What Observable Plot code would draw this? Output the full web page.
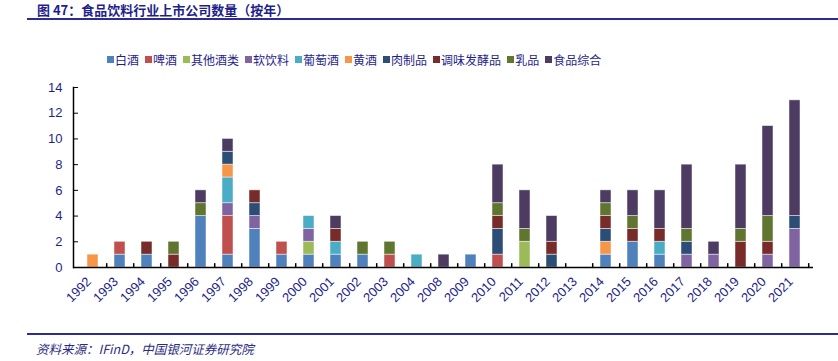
<!DOCTYPE html>
<html><head><meta charset="utf-8">
<script src="https://cdn.jsdelivr.net/npm/d3@7"></script>
<script src="https://cdn.jsdelivr.net/npm/@observablehq/plot@0.6"></script>
<style>
body{margin:0;background:#fff;}
#wrap{position:relative;width:838px;height:361px;overflow:hidden;font-family:"Noto Sans CJK SC",sans-serif;background:#fff;}
#title{position:absolute;left:37px;top:0px;font-size:13px;line-height:normal;font-weight:bold;color:#1f1f8a;white-space:nowrap;}
.hr{position:absolute;left:27px;right:0;height:2px;background:#2b2b9a;}
#legend{position:absolute;left:107px;top:51px;display:flex;gap:6px;font-size:12px;color:#1f1f8a;white-space:nowrap;}
.item{display:flex;align-items:center;}
.sw{width:7px;height:7px;margin-right:1px;display:inline-block;}
#chart{position:absolute;left:0;top:76px;}
#caption{position:absolute;left:36px;top:339px;font-size:12.5px;font-style:italic;color:#2a2a80;white-space:nowrap;}
</style></head>
<body>
<div id="wrap">
  <div id="title">图 47：食品饮料行业上市公司数量（按年）</div>
  <div class="hr" style="top:18px"></div>
  <div id="legend"></div>
  <div id="chart"></div>
  <div class="hr" style="top:333px"></div>
  <div id="caption">资料来源：IFinD，中国银河证券研究院</div>
</div>
<script>
const years = ["1992","1993","1994","1995","1996","1997","1998","1999","2000","2001","2002","2003","2004","2008","2009","2010","2011","2012","2013","2014","2015","2016","2017","2018","2019","2020","2021"];
const categories = ["白酒","啤酒","其他酒类","软饮料","葡萄酒","黄酒","肉制品","调味发酵品","乳品","食品综合"];
const colors = ["#4F81BD","#C0504D","#9BBB59","#8064A2","#4BACC6","#F79646","#2C4D75","#772C2A","#5F7530","#4D3B62"];
const baijiu   = [0,1,1,0,4,1,3,1,1,1,1,0,0,0,1,0,0,0,0,1,2,1,0,0,0,0,0];
const pijiu    = [0,1,0,0,0,3,0,1,0,0,0,1,0,0,0,1,0,0,0,0,0,0,0,0,0,0,0];
const qitajiu  = [0,0,0,0,0,0,0,0,1,0,0,0,0,0,0,0,2,0,0,0,0,0,0,0,0,0,0];
const ruanyin  = [0,0,0,0,0,1,1,0,1,0,0,0,0,0,0,0,0,0,0,0,0,0,1,1,0,1,3];
const putao    = [0,0,0,0,0,2,0,0,1,1,0,0,1,0,0,0,0,0,0,0,0,1,0,0,0,0,0];
const huangjiu = [1,0,0,0,0,1,0,0,0,0,0,0,0,0,0,0,0,0,0,1,0,0,0,0,0,0,0];
const rouzhi   = [0,0,0,0,0,1,1,0,0,0,0,0,0,0,0,2,0,1,0,1,0,0,1,0,0,0,1];
const tiaowei  = [0,0,1,1,0,0,1,0,0,1,0,0,0,0,0,1,0,1,0,1,1,1,0,0,2,1,0];
const rupin    = [0,0,0,1,1,0,0,0,0,0,1,1,0,0,0,1,1,0,0,1,1,0,1,0,1,2,0];
const shipin   = [0,0,0,0,1,1,0,0,0,1,0,0,0,1,0,3,3,2,0,1,2,3,5,1,5,7,9];
const yTicks = [0,2,4,6,8,10,12,14];

const series = [baijiu,pijiu,qitajiu,ruanyin,putao,huangjiu,rouzhi,tiaowei,rupin,shipin];
const rows = [];
categories.forEach((c,ci)=>years.forEach((y,yi)=>{ if(series[ci][yi]>0) rows.push({year:y,cat:c,value:series[ci][yi]}); }));

// legend
const lg = document.getElementById("legend");
categories.forEach((c,i)=>{
  const it=document.createElement("div"); it.className="item";
  const sw=document.createElement("span"); sw.className="sw"; sw.style.background=colors[i];
  const t=document.createElement("span"); t.textContent=c;
  it.appendChild(sw); it.appendChild(t); lg.appendChild(it);
});

const W=838,H=240,ML=73,MR=25,MT=11,MB=49;
const step=(W-ML-MR)/years.length;
const chart = Plot.plot({
  width:W,height:H,marginLeft:ML,marginRight:MR,marginTop:MT,marginBottom:MB,
  style:{fontFamily:"'Liberation Sans', Arial, sans-serif",fontSize:"13px",background:"#fff"},
  x:{domain:years,paddingInner:0.6,paddingOuter:0.3,align:0.5,label:null},
  y:{domain:[0,14],label:null},
  color:{domain:categories,range:colors},
  marks:[
    Plot.barY(rows,{x:"year",y:"value",fill:"cat",order:categories,stroke:"#fff",strokeOpacity:0.6,strokeWidth:0.8}),
    Plot.frame({anchor:"left",stroke:"#000",strokeWidth:1.5}),
    Plot.ruleY([0],{stroke:"#000",strokeWidth:1.5}),
    Plot.ruleX(years,{x:d=>d,y1:0,y2:0.3,dx:step/2,stroke:"#000",strokeWidth:1.5}),
    Plot.axisY({ticks:yTicks,tickSize:-5,tickPadding:16,stroke:"#000",fill:"#1f1f8a",label:null,fontSize:13}),
    Plot.axisX({tickSize:0,tickRotate:-45,tickPadding:12,dx:-4,fill:"#1f1f8a",label:null,fontSize:13})
  ]
});
document.getElementById("chart").appendChild(chart);
</script>
</body></html>
